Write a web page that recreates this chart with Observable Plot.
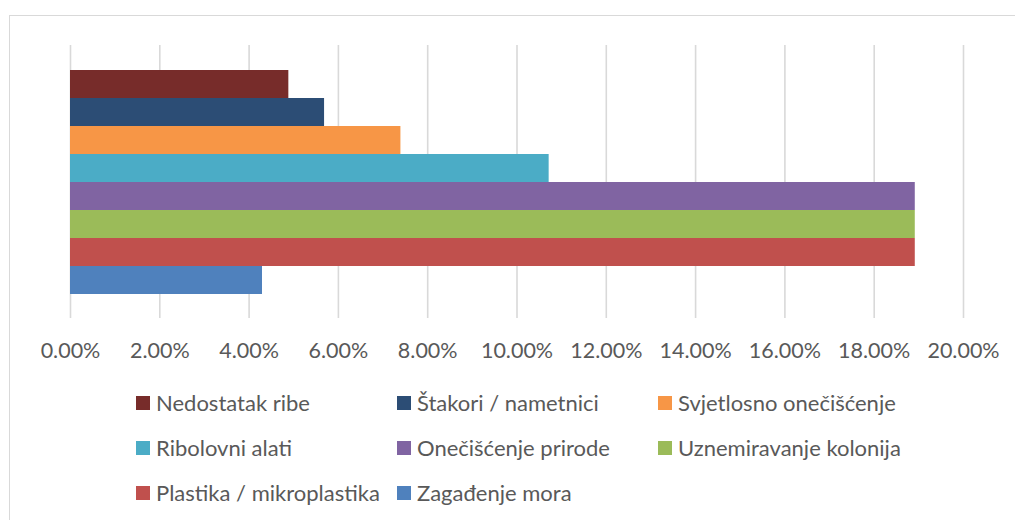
<!DOCTYPE html>
<html>
<head>
<meta charset="utf-8">
<script src="https://cdn.jsdelivr.net/npm/d3@7"></script>
<script src="https://cdn.jsdelivr.net/npm/@observablehq/plot@0.6"></script>
<style>
  html, body { margin: 0; padding: 0; background: #fff; overflow: hidden; }
  #wrap { position: relative; width: 1015px; height: 520px; overflow: hidden; font-family: Lato, "Open Sans", sans-serif; }
  #frame { position: absolute; left: 9px; top: 15px; width: 1200px; height: 700px; border: 1.6px solid #d9d9d9; box-sizing: border-box; }
  #chart { position: absolute; left: 0; top: 0; }
  .lg { position: absolute; display: flex; align-items: center; font-size: 22px; color: #595959; white-space: nowrap; line-height: 1; }
  .lg .sw { width: 14px; height: 14px; margin-right: 6px; flex: none; }
</style>
</head>
<body>
<div id="wrap">
  <div id="frame"></div>
  <div id="chart"></div>
</div>
<script>
// Data (top to bottom)
const categories = [
  "Nedostatak ribe",
  "Štakori / nametnici",
  "Svjetlosno onečišćenje",
  "Ribolovni alati",
  "Onečišćenje prirode",
  "Uznemiravanje kolonija",
  "Plastika / mikroplastika",
  "Zagađenje mora"
];
const values = [0.0489, 0.0569, 0.0740, 0.1072, 0.1892, 0.1892, 0.1892, 0.0430];
const colors = ["#772C2A", "#2C4D75", "#F79646", "#4BACC6", "#8064A2", "#9BBB59", "#C0504D", "#4F81BD"];
const xTicks = [0, 0.02, 0.04, 0.06, 0.08, 0.10, 0.12, 0.14, 0.16, 0.18, 0.20];

const data = categories.map((c, i) => ({category: c, value: values[i]}));

const plot = Plot.plot({
  width: 1015,
  height: 370,
  marginLeft: 70,
  marginRight: 52,
  marginTop: 45,
  marginBottom: 52,
  style: {fontFamily: "Lato, 'Open Sans', sans-serif", fontSize: "21.5px", color: "#595959", background: "transparent"},
  x: {domain: [0, 0.20], ticks: xTicks, tickFormat: d3.format(".2%"), label: null},
  y: {domain: categories, range: [70, 294], padding: 0, axis: null},
  color: {domain: categories, range: colors},
  marks: [
    Plot.gridX(xTicks, {stroke: "#d9d9d9", strokeOpacity: 1, strokeWidth: 1.6}),
    Plot.barX(data, {x: "value", y: "category", fill: "category"}),
    Plot.axisX(xTicks, {tickSize: 0, tickPadding: 24, tickFormat: d3.format(".2%"), fill: "#595959", label: null})
  ]
});
document.getElementById("chart").appendChild(plot);

// Legend (3 columns, row-major)
const wrap = document.getElementById("wrap");
const colX = [136, 397, 658];
const rowY = [403, 448, 493];
categories.forEach((c, i) => {
  const col = i % 3, row = Math.floor(i / 3);
  const el = document.createElement("div");
  el.className = "lg";
  el.style.left = colX[col] + "px";
  el.style.top = (rowY[row] - 12) + "px";
  el.style.height = "24px";
  const sw = document.createElement("span");
  sw.className = "sw";
  sw.style.background = colors[i];
  const tx = document.createElement("span");
  tx.textContent = c;
  el.appendChild(sw);
  el.appendChild(tx);
  wrap.appendChild(el);
});
</script>
</body>
</html>
